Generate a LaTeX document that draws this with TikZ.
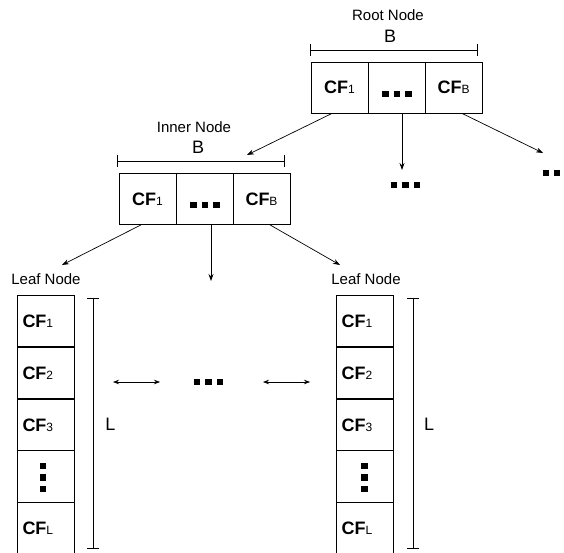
\documentclass[tikz,border=0pt]{standalone}
\usepackage{fontspec}
\setmainfont{Liberation Sans}
\usetikzlibrary{arrows.meta,calc}
\newcommand\cf[1]{{\bfseries CF}{\fontsize{12}{12}\selectfont #1}}
\newcommand\sqd[2]{\fill (#1-3.2,#2-3.2) rectangle (#1+3.2,#2+3.2);}
\begin{document}
\begin{tikzpicture}[x=1pt,y=-1pt,
  cell/.style={draw, line width=0.8pt, minimum width=57pt, minimum height=51pt, inner sep=0pt},
  lcell/.style={draw, line width=0.8pt, minimum width=57pt, minimum height=51.6pt, text width=46pt, inner xsep=5.5pt, inner ysep=0pt, align=left},
  lab/.style={font=\fontsize{15}{15}\selectfont, inner sep=0pt},
  big/.style={font=\fontsize{18}{18}\selectfont, inner sep=0pt},
  conn/.style={line width=0.7pt, -{Stealth[length=7pt,width=5pt]}},
  conn2/.style={line width=0.7pt, {Stealth[length=6pt,width=4.5pt]}-{Stealth[length=6pt,width=4.5pt]}},
  dim/.style={line width=0.7pt, {Bar[width=12pt]}-{Bar[width=12pt]}},
  ]
\useasboundingbox (0,0) rectangle (564,553);
\clip (0,0) rectangle (564,553);

% root node
\node[lab] (rootlbl) at (388,15) {Root Node};
\node[big] (rootB) at (390,36.5) {B};
\draw[dim] (310,50) -- (478,50);
\node[cell,big] (r1) at (339.5,87.5) {\cf{1}};
\node[cell] (r2) at (396.5,87.5) {};
\node[cell,big] (r3) at (453.5,87.5) {\cf{B}};
\sqd{385.5}{94}\sqd{397}{94}\sqd{408.5}{94}

% inner node
\node[lab] (innerlbl) at (194,127.5) {Inner Node};
\node[big] (innerB) at (198,147.5) {B};
\draw[dim] (117,161) -- (285,161);
\node[cell,big] (i1) at (147.5,199) {\cf{1}};
\node[cell] (i2) at (204.5,199) {};
\node[cell,big] (i3) at (261.5,199) {\cf{B}};
\sqd{193.5}{205}\sqd{205}{205}\sqd{216.5}{205}

% connector ends
\coordinate (innerTop) at (247,155);
\coordinate (rootMid) at (402,170);
\coordinate (rootRight) at (543,153);
\coordinate (leafA) at (62,265);
\coordinate (innerMid) at (211,281);
\coordinate (leafB) at (340,265);

\draw[conn] ([xshift=-7.5pt]r1.south) -- (innerTop);
\draw[conn] ([xshift=5.5pt]r2.south) -- (rootMid);
\draw[conn] ([xshift=8.5pt]r3.south) -- (rootRight);
\sqd{394}{185}\sqd{405.5}{185}\sqd{417}{185}
\sqd{546}{173}\sqd{557}{173}

\draw[conn] ([xshift=-6.5pt]i1.south) -- (leafA);
\draw[conn] ([xshift=6.5pt]i2.south) -- (innerMid);
\draw[conn] ([xshift=8.5pt]i3.south) -- (leafB);

% left leaf
\node[lab] (leaflblA) at (46,279) {Leaf Node};
\node[lcell,big] (a1) at (45.5,321) {\cf{1}};
\node[lcell,big] (a2) at (45.5,373) {\cf{2}};
\node[lcell,big] (a3) at (45.5,425) {\cf{3}};
\node[lcell] (a4) at (45.5,476.5) {};
\node[lcell,big] (a5) at (45.5,528) {\cf{L}};
\sqd{43}{466}\sqd{43}{477.5}\sqd{43}{489}
\draw[dim] (93,298) -- (93,549);
\node[big] (LA) at (110.5,424) {L};

% right leaf
\node[lab] (leaflblB) at (366,279) {Leaf Node};
\node[lcell,big] (b1) at (364.5,321) {\cf{1}};
\node[lcell,big] (b2) at (364.5,373) {\cf{2}};
\node[lcell,big] (b3) at (364.5,425) {\cf{3}};
\node[lcell] (b4) at (364.5,476.5) {};
\node[lcell,big] (b5) at (364.5,528) {\cf{L}};
\sqd{364.5}{466}\sqd{364.5}{477.5}\sqd{364.5}{489}
\draw[dim] (413,298) -- (413,549);
\node[big] (LB) at (429,424) {L};

% between leaves
\coordinate (h1a) at (113,382);
\coordinate (h1b) at (160,382);
\coordinate (h2a) at (263,382);
\coordinate (h2b) at (310,382);
\draw[conn2] (h1a) -- (h1b);
\draw[conn2] (h2a) -- (h2b);
\sqd{196.7}{382}\sqd{208.3}{382}\sqd{220}{382}
\end{tikzpicture}
\end{document}
